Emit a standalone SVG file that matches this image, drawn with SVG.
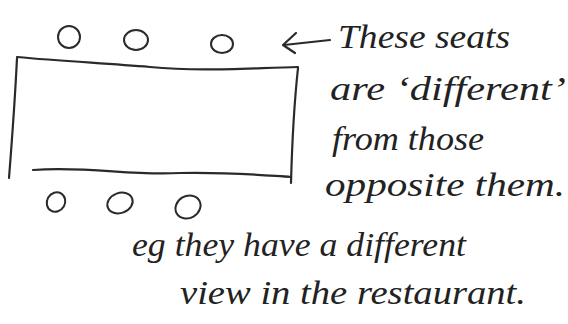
<svg xmlns="http://www.w3.org/2000/svg" width="568" height="324" viewBox="0 0 568 324">
<style>
.ink{fill:none;stroke:#2a2a2a;stroke-width:2.2;stroke-linecap:round;stroke-linejoin:round}
.seat{fill:none;stroke:#2a2a2a;stroke-width:2}
.hand{font-family:"Liberation Serif",serif;font-style:italic;font-size:34px;fill:#222}
</style>
<rect width="568" height="324" fill="#fff"/>
<g id="table">
<path class="ink" d="M17,57 C60,61 100,63 150,67 C200,72 250,68 298,67"/>
<path class="ink" d="M17,58 C15,100 12,140 9,178"/>
<path class="ink" d="M298,68 C294,105 292,145 291,183"/>
<path class="ink" d="M33,170 C90,166 130,176 180,173 C230,172 260,175 291,177"/>
</g>
<g id="seats-top">
<ellipse class="seat" cx="69" cy="37" rx="11" ry="11"/>
<ellipse class="seat" cx="136" cy="40" rx="12" ry="10"/>
<ellipse class="seat" cx="222" cy="44" rx="11" ry="9"/>
</g>
<g id="seats-bottom">
<ellipse class="seat" cx="56" cy="202" rx="9" ry="10" transform="rotate(30 56 202)"/>
<ellipse class="seat" cx="120" cy="203" rx="13" ry="10" transform="rotate(-20 120 203)"/>
<ellipse class="seat" cx="188" cy="207" rx="13" ry="11" transform="rotate(-30 188 207)"/>
</g>
<g id="connectors">
<path class="ink" d="M330,40 L284,45"/>
<path class="ink" d="M296,33 L283,45 L295,53"/>
</g>
<g id="note">
<text class="hand" x="338" y="48" textLength="172" lengthAdjust="spacingAndGlyphs">These seats</text>
<text class="hand" x="330" y="100" textLength="236" lengthAdjust="spacingAndGlyphs">are ‘different’</text>
<text class="hand" x="332" y="150" textLength="152" lengthAdjust="spacingAndGlyphs">from those</text>
<text class="hand" x="325" y="196" textLength="240" lengthAdjust="spacingAndGlyphs">opposite them.</text>
<text class="hand" x="132" y="256" textLength="334" lengthAdjust="spacingAndGlyphs">eg they have a different</text>
<text class="hand" x="180" y="304" textLength="346" lengthAdjust="spacingAndGlyphs">view in the restaurant.</text>
</g>
</svg>
